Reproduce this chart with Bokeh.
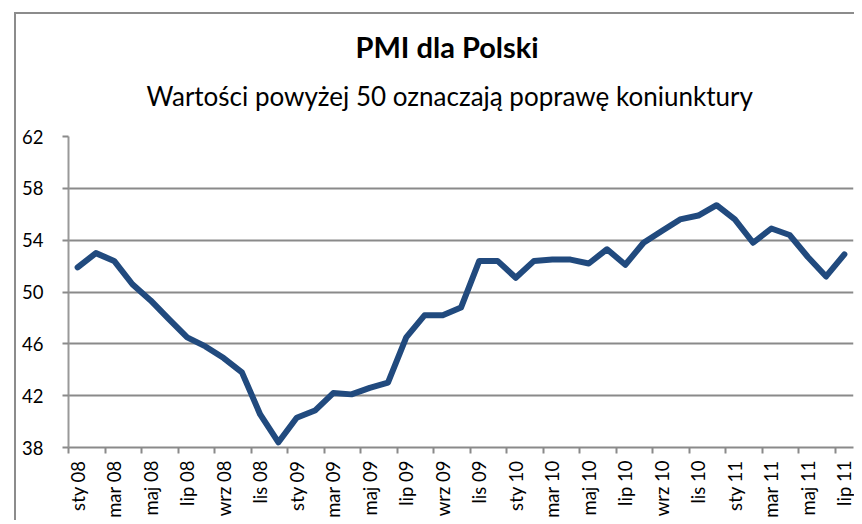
import math
from bokeh.plotting import figure
from bokeh.models import Range1d, LinearAxis, FixedTicker, Grid, Title
from bokeh.embed import file_html
from bokeh.resources import INLINE

# ---- data ----
month_names = ["sty", "lut", "mar", "kwi", "maj", "cze", "lip", "sie", "wrz", "paź", "lis", "gru"]
years = [8, 9, 10, 11]
pmi = [51.9, 53.0, 52.4, 50.6, 49.35, 47.9, 46.5, 45.8, 44.9, 43.8, 40.55, 38.4,
       40.3, 40.85, 42.2, 42.1, 42.6, 43.0, 46.5, 48.2, 48.2, 48.8, 52.4, 52.4,
       51.1, 52.4, 52.5, 52.5, 52.2, 53.3, 52.1, 53.8, 54.7, 55.6, 55.9, 56.7,
       55.6, 53.8, 54.9, 54.4, 52.7, 51.2, 52.9]
y_ticks = [38, 42, 46, 50, 54, 58, 62]
title_text = "PMI dla Polski"
subtitle_text = "Wartości powyżej 50 oznaczają poprawę koniunktury"

labels = []
for y in years:
    for m in month_names:
        labels.append(f"{m} {y:02d}")
labels = labels[:len(pmi)]
n = len(pmi)
xs = [i + 0.5 for i in range(n)]

FONT = "Lato"
GRID = "#8a8a8a"
BORDER = "#8c8c8c"

p = figure(width=854, height=520, output_backend="svg", toolbar_location=None,
           x_range=Range1d(0, n), y_range=Range1d(38, 62),
           x_axis_type=None, y_axis_type=None,
           min_border_left=68, min_border_right=1, min_border_top=136, min_border_bottom=73)
# chart-area border (left & top edges) drawn behind a transparent canvas
p.styles = {"background": (f"linear-gradient({BORDER},{BORDER}) 14px 12px / 2px 100% no-repeat, "
                           f"linear-gradient({BORDER},{BORDER}) 14px 12px / 100% 2px no-repeat, white")}
p.outline_line_color = None
p.background_fill_color = None
p.border_fill_color = None

# y axis
yax = LinearAxis(ticker=FixedTicker(ticks=y_ticks))
yax.axis_line_color = "#999999"
yax.axis_line_width = 2
yax.major_tick_line_color = GRID
yax.major_tick_line_width = 2
yax.major_tick_out = 6
yax.major_tick_in = 0
yax.minor_tick_line_color = None
yax.major_label_text_font = FONT
yax.major_label_text_font_size = "18.5px"
yax.major_label_text_color = "#000000"
yax.major_label_standoff = 19
p.add_layout(yax, "left")

# x axis with boundary tick marks
xtick_ax = LinearAxis(ticker=FixedTicker(ticks=list(range(0, n, 2))))
xtick_ax.axis_line_color = GRID
xtick_ax.axis_line_width = 2
xtick_ax.major_tick_line_color = GRID
xtick_ax.major_tick_line_width = 2
xtick_ax.major_tick_out = 6
xtick_ax.major_tick_in = 0
xtick_ax.minor_tick_line_color = None
xtick_ax.major_label_text_font_size = "0px"
xtick_ax.major_label_standoff = 0
xtick_ax.major_label_overrides = {i: "" for i in range(0, n, 2)}
p.add_layout(xtick_ax, "below")

# x axis with centered labels
label_pos = [xs[i] for i in range(0, n, 2)]
xlab_ax = LinearAxis(ticker=FixedTicker(ticks=label_pos))
xlab_ax.axis_line_color = None
xlab_ax.major_tick_line_color = None
xlab_ax.minor_tick_line_color = None
xlab_ax.major_tick_out = 0
xlab_ax.major_tick_in = 0
xlab_ax.major_label_overrides = {xs[i]: labels[i] for i in range(0, n, 2)}
xlab_ax.major_label_orientation = math.pi / 2
xlab_ax.major_label_text_font = FONT
xlab_ax.major_label_text_font_size = "18.5px"
xlab_ax.major_label_text_color = "#000000"
xlab_ax.major_label_standoff = 7
p.add_layout(xlab_ax, "below")

# grid
p.add_layout(Grid(dimension=1, ticker=yax.ticker, grid_line_color=GRID, grid_line_width=2))

p.line(xs, pmi, line_color="#214a7e", line_width=6, line_join="round", line_cap="round")

# titles (first added = closest to the frame)
p.add_layout(Title(text=subtitle_text, align="left", text_font=FONT, text_font_size="26px",
                   text_font_style="normal", text_color="#000000", standoff=49, offset=78), "above")
p.add_layout(Title(text=title_text, align="left", text_font=FONT, text_font_size="29px",
                   text_font_style="bold", text_color="#000000", standoff=-21, offset=287), "above")

open("out.html", "w").write(file_html(p, INLINE))
